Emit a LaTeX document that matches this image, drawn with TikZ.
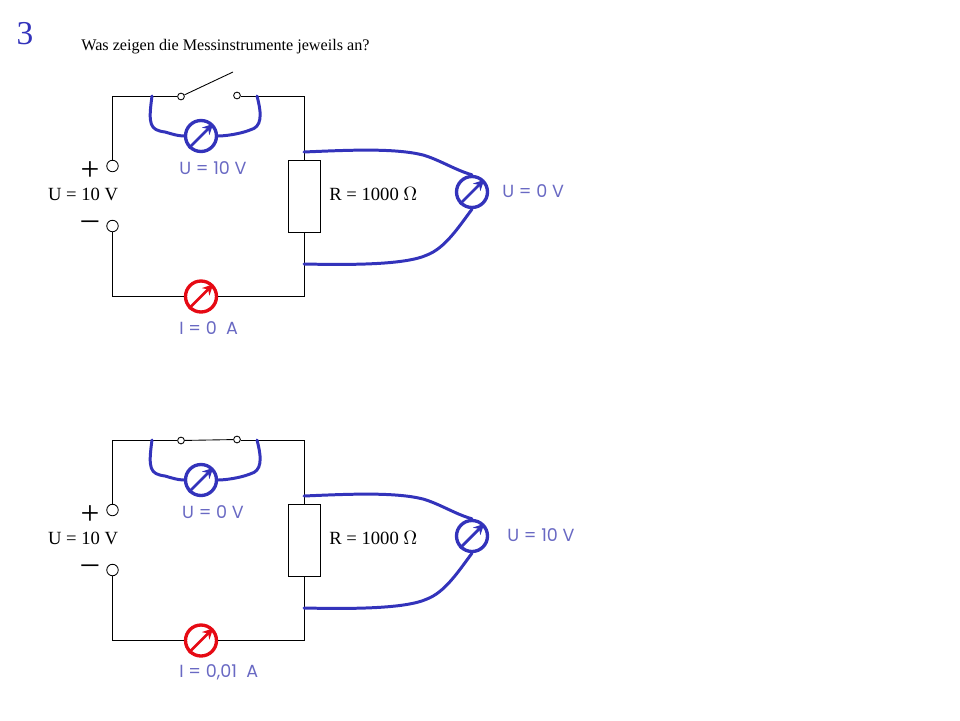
\documentclass[tikz,border=0pt]{standalone}
\usepackage{fontspec}
\setmainfont{Liberation Serif}
\newfontfamily\labelfont{Poppins}
\usetikzlibrary{arrows.meta, calc}
\definecolor{meterblue}{RGB}{51,51,187}
\definecolor{meterred}{RGB}{230,10,20}
\definecolor{valueblue}{RGB}{105,105,195}
\tikzset{
    wire/.style={line width=0.6pt},
    lever/.style={line width=0.5pt},
    probe/.style={meterblue, line width=1.7pt, line cap=round},
    meterv/.style={circle, draw=meterblue, line width=1.9pt, minimum size=0.62cm, inner sep=0pt},
    meteri/.style={circle, draw=meterred, line width=1.9pt, minimum size=0.62cm, inner sep=0pt},
    needle/.style={-{Stealth[length=6pt,width=6pt]}, line width=1.6pt},
    terminal/.style={circle, draw, fill=white, line width=0.5pt, minimum size=0.23cm, inner sep=0pt},
    contact/.style={circle, draw, fill=white, line width=0.5pt, minimum size=0.135cm, inner sep=0pt},
    resistor/.style={rectangle, draw, fill=white, line width=0.5pt, minimum width=0.64cm, minimum height=1.44cm, inner sep=0pt},
    plain/.style={font=\fontsize{10.6}{12}\selectfont, inner sep=0pt},
    sign/.style={font=\fontsize{19}{19}\selectfont, inner sep=0pt, text height=6pt, text depth=0pt},
    value/.style={font=\labelfont\fontsize{10}{12}\selectfont, valueblue, inner sep=0pt}
}
\begin{document}
\begin{tikzpicture}[x=0.02cm, y=-0.02cm]
    \useasboundingbox (0,0) rectangle (960,720);

    % Heading
    \node[meterblue, font=\fontsize{19}{22}\selectfont, inner sep=0pt] (number) at (25,34) {3};
    \node[plain, font=\fontsize{9.2}{11}\selectfont, anchor=west] (question) at (81,47) {Was zeigen die Messinstrumente jeweils an?};

    % Both circuits
    \foreach \yo/\swend/\uswitch/\ures/\ucur/\xres in {0/levertip/U = 10 V/U = 0 V/I = 0 \ A/502, 344/swb/U = 0 V/U = 10 V/{I = 0,01 \ A}/507} {
        \begin{scope}[yshift={-\yo*0.02cm}]
            % Source and corners
            \node[terminal] (plus) at (112.5,166) {};
            \node[terminal] (minus) at (112.5,226) {};
            \coordinate (topleft) at (112.5,96.5);
            \coordinate (topright) at (304.5,96.5);
            \coordinate (botleft) at (112.5,296.5);
            \coordinate (botright) at (304.5,296.5);
            \coordinate (levertip) at (233,72);

            % Switch contacts
            \node[contact] (swa) at (181,96.5) {};
            \node[contact] (swb) at (237,95.5) {};

            % Meters
            \node[meterv] (mswitch) at (201,136) {};
            \node[meterv] (mres) at (472,192) {};
            \node[meteri] (mcur) at (201,296.5) {};
            \node[resistor] (res) at (304.5,196.5) {};

            % Wires
            \draw[wire] (plus) -- (topleft) -- (swa);
            \draw[wire] (swb.east |- topright) -- (topright) -- (res);
            \draw[wire] (res) -- (botright) -- (mcur);
            \draw[wire] (mcur) -- (botleft) -- (minus);
            \draw[lever] (swa) -- (\swend);

            % Voltmeter leads
            \draw[probe] (152,96) .. controls (148,125) and (150,130) .. (165,132) .. controls (172,134) and (178,136) .. (mswitch);
            \draw[probe] (mswitch) .. controls (225,136) and (240,134) .. (250,130) .. controls (262,127) and (262,115) .. (257,96);
            \draw[probe] (304,152) .. controls (350,150) and (395,148) .. (423,155) .. controls (440,160) and (455,170) .. (mres.north);
            \draw[probe] (304,264) .. controls (350,265) and (405,265) .. (427,255) .. controls (445,248) and (458,228) .. (mres.south);

            % Needles
            \draw[needle, meterblue] (mswitch.south west) -- (mswitch.north east);
            \draw[needle, meterblue] (mres.south west) -- (mres.north east);
            \draw[needle, meterred] (mcur.south west) -- (mcur.north east);

            % Labels
            \node[sign] (plussign) at (90,175) {+};
            \node[sign] (minussign) at (90,224) {--};
            \node[plain] (usource) at (83,194) {U = 10 V};
            \node[plain, anchor=west] (rlabel) at (329,194) {R = 1000 $\Omega$};
            \node[value] (lswitch) at (213,168) {\uswitch};
            \node[value, anchor=west] (lres) at (\xres,191) {\ures};
            \node[value, anchor=west] (lcur) at (179,328) {\ucur};
        \end{scope}
    }
\end{tikzpicture}
\end{document}
